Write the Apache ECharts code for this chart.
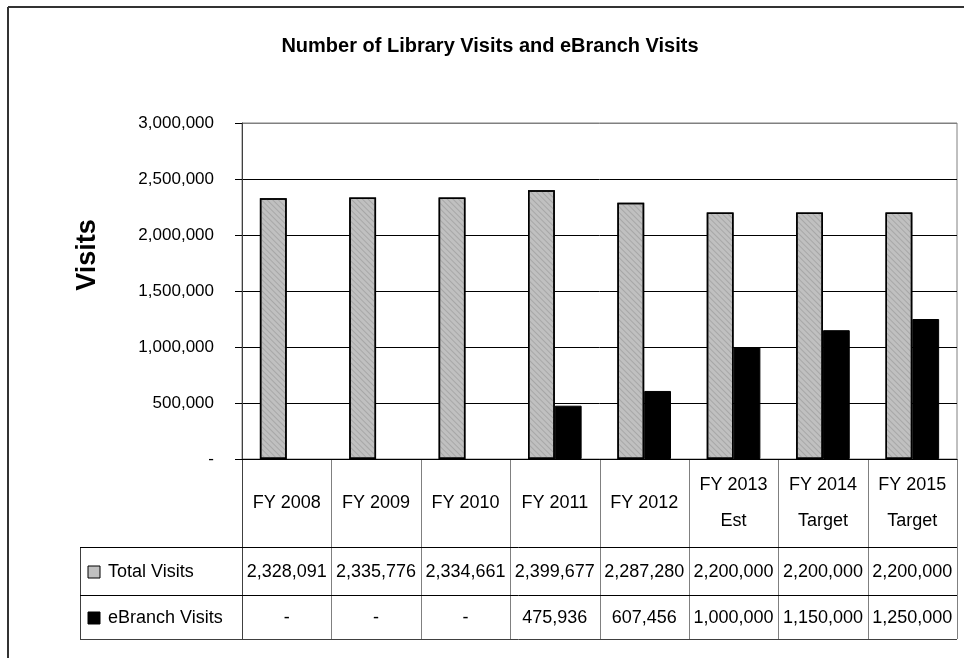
<!DOCTYPE html>
<html>
<head>
<meta charset="utf-8">
<script src="https://cdn.jsdelivr.net/npm/echarts@6/dist/echarts.min.js"></script>
<style>html,body{margin:0;padding:0;background:#fff}#c{width:964px;height:658px}</style>
</head>
<body>
<div id="c"></div>
<script>
const titleText = 'Number of Library Visits and eBranch Visits';
const yAxisTitle = 'Visits';
const categories = ['FY 2008', 'FY 2009', 'FY 2010', 'FY 2011', 'FY 2012', 'FY 2013\nEst', 'FY 2014\nTarget', 'FY 2015\nTarget'];
const totalVisits = [2328091, 2335776, 2334661, 2399677, 2287280, 2200000, 2200000, 2200000];
const ebranchVisits = [null, null, null, 475936, 607456, 1000000, 1150000, 1250000];
const seriesNames = ['Total Visits', 'eBranch Visits'];
const yMin = 0, yMax = 3000000, yInterval = 500000;

const FONT = '"Liberation Sans", Arial, sans-serif';
const GRAY = '#c0c0c0';
const fmt = v => (v === null || v === 0) ? '-' : v.toLocaleString('en-US');

const chart = echarts.init(document.getElementById('c'), null, {renderer: 'canvas'});
const option = {
  animation: false,
  backgroundColor: '#fff',
  grid: {left: 242, right: 7, top: 123, bottom: 199, show: true, borderColor: '#808080', borderWidth: 1},
  xAxis: {
    type: 'category', data: categories,
    axisLine: {show: true, lineStyle: {color: '#000', width: 1}},
    axisTick: {show: false}, axisLabel: {show: false}
  },
  yAxis: {
    type: 'value', min: yMin, max: yMax, interval: yInterval,
    axisLine: {show: true, lineStyle: {color: '#404040', width: 1}},
    axisTick: {show: true, length: 7, lineStyle: {color: '#000'}},
    axisLabel: {margin: 28, fontFamily: FONT, fontSize: 17, color: '#000', formatter: fmt},
    splitLine: {show: true, lineStyle: {color: ['#000', '#000', '#000', '#000', '#000', '#000', '#808080'], width: 1}}
  },
  series: [
    {name: seriesNames[0], type: 'bar', data: totalVisits, barGap: '0%', barCategoryGap: '40%',
     itemStyle: {color: GRAY, borderColor: '#000', borderWidth: 1.5,
       decal: {symbol: 'rect', symbolSize: 1, dashArrayX: [1, 0], dashArrayY: [1, 3], rotation: Math.PI / 4, color: 'rgba(120,120,120,0.35)'}}},
    {name: seriesNames[1], type: 'bar', data: ebranchVisits,
     itemStyle: {color: '#000', borderColor: '#000', borderWidth: 1}}
  ]
};
chart.setOption(option);

// Build data table below the plot using axis positions
const cx0 = chart.convertToPixel({xAxisIndex: 0}, 0);
const cx1 = chart.convertToPixel({xAxisIndex: 0}, 1);
const band = cx1 - cx0;
const xLeft = cx0 - band / 2;
const xRight = xLeft + band * categories.length;
const y0 = chart.convertToPixel({yAxisIndex: 0}, 0);
const headerBottom = y0 + 88;
const row1Bottom = y0 + 136;
const row2Bottom = y0 + 180;
const tableLeft = 80;

const g = [];
const line = (x1, y1, x2, y2, color, w) => g.push({type: 'line', shape: {x1, y1, x2, y2}, style: {stroke: color, lineWidth: w || 1}, silent: true});
const text = (x, y, t, align, size, extra) => g.push({type: 'text', x, y, style: Object.assign({text: t, fill: '#000', font: (size || 18) + 'px ' + FONT, align: align || 'center', verticalAlign: 'middle'}, extra || {}), silent: true});

// outer frame
line(8, 7, 964, 7, '#333', 2);
line(8, 7, 8, 658, '#333', 2);

// title
text(490, 46, titleText, 'center', 20, {font: 'bold 20px ' + FONT});

// vertical lines
for (let i = 0; i <= categories.length; i++) {
  const x = Math.round(xLeft + band * i) + 0.5;
  line(x, y0, x, row2Bottom, i === 0 ? '#404040' : '#808080', 1);
}
line(tableLeft + 0.5, headerBottom, tableLeft + 0.5, row2Bottom, '#404040', 1);
// horizontal lines
line(tableLeft, headerBottom + 0.5, xRight, headerBottom + 0.5, '#000', 1);
line(tableLeft, row1Bottom + 0.5, xRight, row1Bottom + 0.5, '#000', 1);
line(tableLeft, row2Bottom + 0.5, xRight, row2Bottom + 0.5, '#404040', 1);
// zero tick extension
line(235, y0 + 0.5, xLeft, y0 + 0.5, '#000', 1);

// header labels
categories.forEach((c, i) => {
  text(xLeft + band * (i + 0.5), (y0 + headerBottom) / 2, c, 'center', 18, {lineHeight: 36});
});
// rows
const rows = [totalVisits, ebranchVisits];
const rowMid = [(headerBottom + row1Bottom) / 2, (row1Bottom + row2Bottom) / 2];
rows.forEach((arr, r) => {
  arr.forEach((v, i) => text(xLeft + band * (i + 0.5), rowMid[r] + 1, fmt(v), 'center', 18));
  // legend key
  g.push({type: 'rect', shape: {x: 88, y: rowMid[r] - 5, width: 12, height: 12},
    style: {fill: r === 0 ? GRAY : '#000', stroke: '#000', lineWidth: 1}, silent: true});
  text(108, rowMid[r] + 1, seriesNames[r], 'left', 18);
});

// y axis title
g.push({type: 'text', x: 88, y: 255, rotation: Math.PI / 2,
  style: {text: yAxisTitle, fill: '#000', font: 'bold 27px ' + FONT, align: 'center', verticalAlign: 'middle'}, silent: true});

chart.setOption({graphic: g});
</script>
</body>
</html>
